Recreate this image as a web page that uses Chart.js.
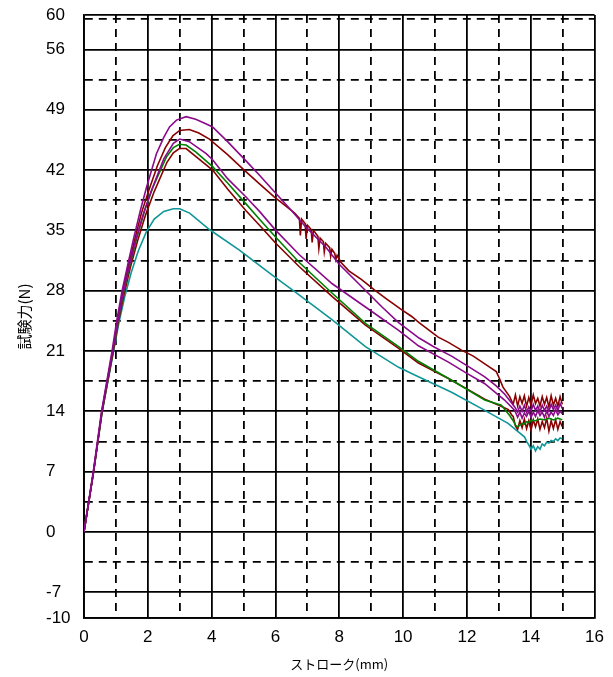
<!DOCTYPE html>
<html><head><meta charset="utf-8">
<script src="https://cdn.jsdelivr.net/npm/chart.js@4.4.1/dist/chart.umd.min.js"></script>
<style>html,body{margin:0;padding:0;background:#fff;}canvas{display:block;}</style>
</head><body>
<canvas id="c" width="613" height="677"></canvas>
<script>
// ---- tick values / labels ----
const xTickValues = [0,1,2,3,4,5,6,7,8,9,10,11,12,13,14,15,16];
const xLabelValues = [0,2,4,6,8,10,12,14,16];
const xDashedValues = [1,3,5,7,9,11,13,15];
const yLabelValues = [-10,-7,0,7,14,21,28,35,42,49,56,60];
const yDashedValues = [-3.5,3.5,10.5,17.5,24.5,31.5,38.5,45.5,52.5,59.5];
const xTitle = 'ストローク(mm)';
const yTitle = '試験力(N)';

// ---- series ([stroke mm, force N]) ----
const purpleA = [[0,0],[0.29,7],[0.55,14],[0.88,21],[1.03,24.6],[1.19,27.9],[1.37,31.0],[1.57,34.3],[1.78,37.5],[1.96,40],[2.27,43.9],[2.5,45.8],[2.68,47],[2.9,47.8],[3.2,48.2],[3.5,47.9],[3.8,47.4],[4.03,47.0],[4.5,45.3],[5.07,43.1],[5.5,41.4],[6.01,39.3],[6.5,37.3],[6.95,35.4],[7.57,33.1],[7.99,31.1],[8.61,28.8],[9.34,26.1],[9.86,24.3],[10.5,22.5],[11.0,21.4],[11.52,20.4],[12.0,19.3],[12.56,18.0],[12.9,17.0],[13.18,16.0],[13.5,14.5],
[13.59,13.9],[13.66,14.6],[13.73,14.0],[13.8,14.7],[13.87,13.9],[13.94,14.5],[14.01,14.0],[14.08,14.8],[14.15,14.1],[14.22,14.6],[14.29,13.9],[14.36,14.7],[14.43,14.1],[14.5,14.6],[14.57,14.0],[14.64,14.8],[14.71,14.2],[14.78,14.7],[14.85,14.1],[14.92,14.9],[14.99,14.3]];
const purpleB = [[0,0],[0.3,7],[0.56,14],[0.9,21],[1.06,24.5],[1.23,27.8],[1.42,30.9],[1.63,34.0],[1.86,36.9],[2.1,39.5],[2.5,43.3],[2.8,45.1],[3.0,45.6],[3.3,45.3],[3.83,43.9],[4.03,43.2],[4.5,41.0],[5.07,38.9],[5.5,37.2],[6.01,35.0],[6.74,32.2],[7.78,28.8],[8.82,26.1],[9.86,23.4],[10.48,21.6],[11.42,19.7],[12.0,18.4],[12.56,17.2],[13.18,15.3],[13.5,14.1],
[13.59,13.3],[13.66,13.9],[13.73,13.2],[13.8,13.8],[13.87,13.4],[13.94,14.0],[14.01,13.3],[14.08,13.9],[14.15,13.4],[14.22,14.1],[14.29,13.5],[14.36,13.9],[14.43,13.3],[14.5,14.0],[14.57,13.4],[14.64,13.9],[14.71,13.5],[14.78,14.2],[14.85,13.6],[14.92,14.0],[14.99,13.7]];
const darkRedA = [[0,0],[0.3,7],[0.56,14],[0.9,21],[1.05,24.5],[1.21,27.8],[1.4,31.0],[1.6,34.1],[1.8,37.0],[2.0,39.3],[2.3,42.5],[2.55,44.6],[2.79,46.0],[3.0,46.6],[3.3,46.7],[3.6,46.3],[3.93,45.6],[4.5,43.8],[5.02,42.0],[5.5,40.4],[5.96,38.9],[6.3,37.9],[6.6,37.0],
[6.75,36.4],[6.78,34.4],[6.82,36.3],[6.93,35.8],[6.96,34.0],[7.0,35.6],[7.12,35.1],[7.15,33.6],[7.19,35.0],[7.33,34.3],[7.36,32.9],[7.4,34.1],[7.5,33.7],[7.53,32.5],[7.57,33.5],[7.7,33.0],[7.73,32.0],[7.77,32.8],[7.86,32.3],[7.89,31.6],[7.93,32.1],[8.05,31.3],
[8.3,30.3],[8.69,29.3],[9.1,28.1],[9.5,27.0],[9.95,25.8],[10.27,25.0],[10.5,24.3],[11.1,22.6],[11.42,22.0],[11.83,21.1],[12.2,20.4],[12.56,19.5],[12.92,18.6],[13.02,17.8],[13.13,16.8],[13.34,15.7],
[13.45,14.8],[13.52,15.9],[13.59,14.6],[13.66,15.7],[13.73,14.9],[13.8,15.8],[13.87,14.6],[13.94,15.6],[14.01,14.7],[14.08,15.9],[14.15,14.9],[14.22,15.5],[14.29,14.6],[14.36,15.7],[14.43,14.8],[14.5,15.6],[14.57,14.5],[14.64,15.8],[14.71,14.7],[14.78,15.5],[14.85,14.6],[14.92,15.7],[14.99,14.8]];
const green = [[0,0],[0.3,7],[0.57,14],[0.91,21],[1.07,24.5],[1.24,27.8],[1.44,31.0],[1.66,34.2],[1.9,37.3],[2.16,40],[2.58,43.5],[2.8,44.6],[2.99,45.0],[3.2,44.9],[3.5,44.1],[4.03,42.4],[4.5,40.5],[5.07,38.1],[5.5,36.3],[6.01,34.2],[6.74,31.3],[7.78,27.7],[8.82,24.2],[9.86,21.5],[10.48,19.8],[11.52,17.6],[12.56,15.3],[13.08,14.7],[13.34,13.5],
[13.45,12.9],[13.52,12.4],[13.59,12.2],[13.66,12.4],[13.73,12.6],[13.8,12.5],[13.87,12.8],[13.94,12.7],[14.01,12.95],[14.15,12.9],[14.29,13.1],[14.43,13.0],[14.57,13.2],[14.71,13.0],[14.85,13.2],[14.99,13.0]];
const darkRedB = [[0,0],[0.3,7],[0.57,14],[0.92,21],[1.08,24.4],[1.26,27.7],[1.46,30.8],[1.68,33.8],[1.93,36.8],[2.2,39.5],[2.6,42.9],[2.8,44.0],[2.99,44.5],[3.2,44.5],[3.5,43.6],[4.03,42.0],[4.5,39.8],[5.07,37.3],[5.5,35.6],[6.01,33.5],[6.74,30.8],[7.78,27.3],[8.82,24.0],[9.86,21.3],[10.48,19.6],[11.42,17.8],[12.0,16.6],[12.56,15.4],[13.0,14.7],[13.3,14.2],[13.4,13.6],
[13.45,13.4],[13.52,12.3],[13.59,11.9],[13.66,12.9],[13.73,12.1],[13.8,13.1],[13.87,12.0],[13.94,12.9],[14.01,11.8],[14.08,13.0],[14.15,12.2],[14.22,13.1],[14.29,11.9],[14.36,12.8],[14.43,12.1],[14.5,13.2],[14.57,11.7],[14.64,12.9],[14.71,12.0],[14.78,13.0],[14.85,11.9],[14.92,12.8],[14.99,12.2]];
const teal = [[0,0],[0.3,7],[0.57,14],[0.93,21],[1.09,24.2],[1.27,27.2],[1.48,30.1],[1.7,32.6],[1.95,34.8],[2.2,36.3],[2.5,37.2],[2.8,37.5],[3.0,37.5],[3.31,37.0],[3.93,35.1],[4.87,32.7],[5.9,29.8],[6.74,27.5],[7.78,24.6],[8.82,21.5],[9.86,19.1],[10.48,18.0],[11.52,16.2],[12.56,14.1],[13.29,12.6],[13.81,11.0],
[13.87,10.5],[13.94,10.1],[14.01,9.6],[14.08,10.0],[14.15,9.4],[14.22,9.9],[14.29,9.6],[14.36,10.2],[14.43,10.0],[14.5,10.4],[14.57,10.3],[14.64,10.6],[14.71,10.5],[14.78,10.8],[14.85,10.6],[14.92,10.9],[14.99,10.8]];

const seriesList = [
  {data: purpleA, color: '#8a0a8a'},
  {data: purpleB, color: '#8a0a8a'},
  {data: darkRedA, color: '#880000'},
  {data: green, color: '#008000'},
  {data: darkRedB, color: '#880000'},
  {data: teal, color: '#109696'}
];

const yTickValues = yLabelValues.concat(yDashedValues).sort((a,b)=>a-b);
const tickFont = {family: "'Liberation Sans', Arial, sans-serif", size: 17};
const cjkFont = "'Noto Sans CJK JP', sans-serif";
const DASH = [8,6];
const GRID_W = 1.8;

new Chart(document.getElementById('c'), {
  type: 'line',
  data: {
    datasets: seriesList.map(s => ({
      data: s.data.map(p => ({x: p[0], y: p[1]})),
      borderColor: s.color,
      borderWidth: 1.6,
      pointRadius: 0,
      tension: 0,
      fill: false
    }))
  },
  options: {
    responsive: false,
    animation: false,
    layout: {padding: {left: 0, right: 16, top: 15, bottom: 0}},
    plugins: {legend: {display: false}, tooltip: {enabled: false}},
    scales: {
      x: {
        type: 'linear', position: 'bottom', min: 0, max: 16,
        afterBuildTicks: s => { s.ticks = xTickValues.map(v => ({value: v})); },
        afterFit: s => { s.height = 59; },
        ticks: {autoSkip: false, maxRotation: 0, padding: 9, font: tickFont, color: '#000',
          callback: v => xLabelValues.includes(v) ? String(v) : ''},
        grid: {color: '#000', lineWidth: GRID_W, drawTicks: false},
        border: {display: true, color: '#000', width: GRID_W,
          dash: ctx => (ctx.tick && xDashedValues.includes(ctx.tick.value)) ? DASH : []},
        title: {display: true, text: xTitle, color: '#000', font: {family: cjkFont, size: 13}, padding: {top: 0, bottom: 5}}
      },
      y: {
        type: 'linear', position: 'left', min: -10, max: 60, weight: 0,
        afterBuildTicks: s => { s.ticks = yTickValues.map(v => ({value: v})); },
        afterFit: s => { s.width = 38; },
        ticks: {autoSkip: false, crossAlign: 'far', font: tickFont, color: '#000',
          callback: v => yLabelValues.includes(v) ? String(v) : ''},
        grid: {color: '#000', lineWidth: GRID_W, drawTicks: false},
        border: {display: true, color: '#000', width: GRID_W,
          dash: ctx => (ctx.tick && yDashedValues.includes(ctx.tick.value)) ? DASH : []}
      },
      yt: {
        type: 'linear', position: 'left', min: 0, max: 1, weight: 10,
        afterFit: s => { s.width = 46; },
        ticks: {display: false},
        grid: {display: false, drawTicks: false},
        border: {display: false},
        title: {display: true, text: yTitle, color: '#000', font: {family: cjkFont, size: 15}, padding: {top: 15, bottom: 0}}
      }
    }
  }
});
</script>
</body></html>
